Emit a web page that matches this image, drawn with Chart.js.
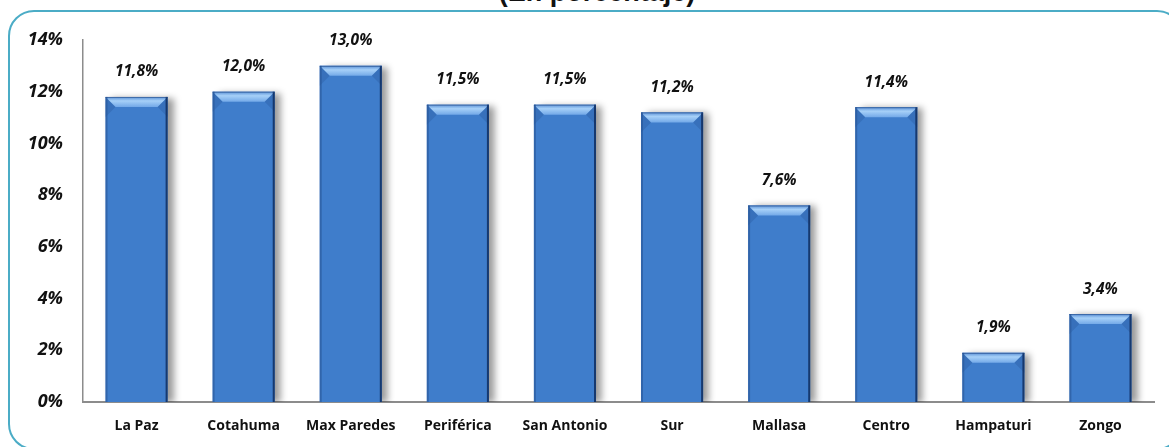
<!DOCTYPE html>
<html>
<head>
<meta charset="utf-8">
<script src="https://cdn.jsdelivr.net/npm/chart.js@4"></script>
<style>
  html, body { margin: 0; padding: 0; background: #fff; overflow: hidden; }
  #wrap { position: relative; width: 1169px; height: 447px; overflow: hidden; }
  #frame { position: absolute; left: 8px; top: 10px; width: 1175px; height: 440px;
           border: 2px solid #4bacc6; border-radius: 26px; box-sizing: border-box; }
  #title { position: absolute; left: 497px; top: -23px; width: 200px; text-align: center;
           font: bold 27px "Liberation Sans", Arial, sans-serif; color: #111; white-space: nowrap; }
  canvas { position: absolute; left: 0; top: 0; }
</style>
</head>
<body>
<div id="wrap">
  <div id="title">(En porcentaje)</div>
  <div id="frame"></div>
  <canvas id="chart" width="1169" height="447"></canvas>
</div>
<script>
// --- data ---
const categories = ['La Paz', 'Cotahuma', 'Max Paredes', 'Periférica', 'San Antonio', 'Sur', 'Mallasa', 'Centro', 'Hampaturi', 'Zongo'];
const values = [11.8, 12.0, 13.0, 11.5, 11.5, 11.2, 7.6, 11.4, 1.9, 3.4];
const yTicks = [0, 2, 4, 6, 8, 10, 12, 14];

const fmt = v => v.toFixed(1).replace('.', ',') + '%';

// shadow behind bars
const shadowPlugin = {
    id: 'barShadow',
    beforeDatasetsDraw(chart) {
        const ctx = chart.ctx;
        ctx.save();
        ctx.shadowColor = 'rgba(0,0,0,0.4)';
        ctx.shadowBlur = 7;
        ctx.shadowOffsetX = 6;
        ctx.shadowOffsetY = 1;
    },
    afterDatasetsDraw(chart) {
        chart.ctx.restore();
    }
};

// bevel on top + dark edges, then value labels
const bevelPlugin = {
    id: 'bevel',
    afterDatasetsDraw(chart) {
        const ctx = chart.ctx;
        const meta = chart.getDatasetMeta(0);
        ctx.save();
        meta.data.forEach((bar, i) => {
            const l = bar.x - bar.width / 2, r = bar.x + bar.width / 2;
            const t = bar.y, b = bar.base;
            const bv = 10;
            // top bevel
            const g = ctx.createLinearGradient(0, t, 0, t + bv);
            g.addColorStop(0, '#5a90d6');
            g.addColorStop(0.4, '#a6d0f8');
            g.addColorStop(1, '#73a9e8');
            ctx.fillStyle = g;
            ctx.beginPath();
            ctx.moveTo(l, t); ctx.lineTo(r, t); ctx.lineTo(r - bv, t + bv); ctx.lineTo(l + bv, t + bv);
            ctx.closePath(); ctx.fill();
            // side shading under the top corners
            ctx.fillStyle = 'rgba(30,75,140,0.25)';
            ctx.beginPath();
            ctx.moveTo(l, t); ctx.lineTo(l + bv, t + bv); ctx.lineTo(l, t + bv * 2); ctx.closePath(); ctx.fill();
            ctx.beginPath();
            ctx.moveTo(r, t); ctx.lineTo(r - bv, t + bv); ctx.lineTo(r, t + bv * 2); ctx.closePath(); ctx.fill();
            // left / right edges
            ctx.fillStyle = 'rgba(40,85,150,0.6)';
            ctx.fillRect(l, t, 2, b - t);
            ctx.fillStyle = 'rgba(15,45,95,0.85)';
            ctx.fillRect(r - 2, t, 2, b - t);
            ctx.fillStyle = 'rgba(30,70,130,0.6)';
            ctx.fillRect(l, t, r - l, 1);
            // value label
            ctx.fillStyle = '#111';
            ctx.font = 'italic bold 15.5px "Open Sans", sans-serif';
            ctx.textAlign = 'center';
            ctx.textBaseline = 'middle';
            ctx.fillText(fmt(values[i]), bar.x, t - 25);
        });
        ctx.restore();
    }
};

const ctx = document.getElementById('chart').getContext('2d');
new Chart(ctx, {
    type: 'bar',
    data: {
        labels: categories,
        datasets: [{
            data: values,
            backgroundColor: c => {
                const el = c.element;
                if (!c.chart.chartArea || !el || !el.width) return '#3f7dcb';
                const l = el.x - el.width / 2;
                const g = c.chart.ctx.createLinearGradient(l, 0, l + el.width, 0);
                g.addColorStop(0, '#3a70ba');
                g.addColorStop(0.45, '#427fcc');
                g.addColorStop(1, '#3870bb');
                return g;
            },
            borderWidth: 0,
            barPercentage: 0.58,
            categoryPercentage: 1
        }]
    },
    options: {
        responsive: false,
        animation: false,
        layout: { padding: { top: 40, right: 15, left: 0, bottom: 0 } },
        plugins: { legend: { display: false }, tooltip: { enabled: false } },
        scales: {
            x: {
                grid: { display: false, drawTicks: false },
                border: { display: true, color: '#8c8c8c', width: 2 },
                ticks: { color: '#111', padding: 16, font: { family: 'Open Sans', weight: 'bold', size: 14 } },
                afterFit: s => { s.height = 45; }
            },
            y: {
                min: 0, max: 14,
                afterBuildTicks: s => { s.ticks = yTicks.map(v => ({ value: v })); },
                grid: { display: false, drawTicks: false },
                border: { display: true, color: '#8c8c8c', width: 1.5 },
                ticks: {
                    color: '#111', padding: 20,
                    font: { family: 'Open Sans', weight: 'bold', style: 'italic', size: 18 },
                    callback: v => v + '%'
                },
                afterFit: s => { s.width = 83; }
            }
        }
    },
    plugins: [shadowPlugin, bevelPlugin]
});
</script>
</body>
</html>
